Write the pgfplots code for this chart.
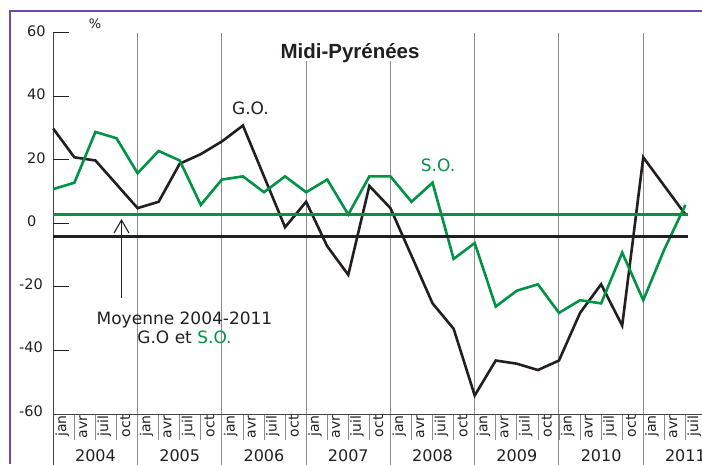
\documentclass[border=0pt]{standalone}
\usepackage{fontspec}
\setmainfont{DejaVu Sans}
\newfontfamily\titlefont{Liberation Sans}
\usepackage{pgfplots}
\pgfplotsset{compat=1.18}
\usetikzlibrary{arrows.meta}
\definecolor{sogreen}{RGB}{0,146,69}
\definecolor{goblack}{RGB}{35,31,32}
\definecolor{framepurple}{RGB}{108,72,168}
\definecolor{gridgray}{RGB}{140,140,140}

\begin{document}
\begin{tikzpicture}
\useasboundingbox (0,0) rectangle (702pt,464pt);
\clip (0,0) rectangle (702pt,464pt);
% frame
\draw[framepurple, line width=2pt] (10pt,0) -- (10pt,453pt) -- (710pt,453pt);
\begin{scope}[shift={(53.3pt,240.5pt)}, x=21.07pt, y=3.175pt]
  \foreach \i in {4,8,...,32} \draw[gridgray, line width=1pt] (\i,60) -- (\i,-77);
  \foreach \i in {1,...,31} \draw[gridgray, line width=0.8pt] (\i,-60) -- (\i,-68.3);
  \draw[goblack!85, line width=1pt] (0,-60) -- (33,-60);
  \draw[goblack!85, line width=1pt] (0,60) -- (0,-77);
  \foreach \v in {60,40,20,0,-20,-40} \draw[goblack, line width=1pt] (0,\v) -- (0.75,\v);
  \foreach \i in {0,...,31} {
     \pgfmathtruncatemacro{\m}{mod(\i,4)}
     \node[rotate=90, anchor=east, inner sep=0pt, font=\fontsize{14}{16}\selectfont, text=goblack] at (\i+0.42,-60.4) {\ifcase\m jan\or avr\or juil\or oct\fi};
  }
  \foreach \y [count=\k from 0] in {2004,...,2011}
     \node[anchor=base, inner sep=0pt, font=\fontsize{16}{18}\selectfont, text=goblack] at (4*\k+2,-75) {\y};
\end{scope}
% y tick labels
\foreach \v in {60,40,20,0}
  \node[anchor=west, inner sep=0pt, font=\fontsize{14.5}{16}\selectfont, text=goblack] at (27pt,{(242.5+3.175*\v)*1pt}) {\v};
\foreach \v in {-20,-40,-60}
  \node[anchor=east, inner sep=0pt, font=\fontsize{14.5}{16}\selectfont, text=goblack] at (43pt,{(243.5+3.175*\v)*1pt}) {\v};
\node[inner sep=0pt, font=\fontsize{13}{15}\selectfont, text=goblack] at (95pt,440pt) {\%};
% title
\fill[white] (266pt,403pt) rectangle (434pt,432pt);
\node[anchor=base, inner sep=0pt, font=\titlefont\bfseries\fontsize{20.5}{24}\selectfont, text=goblack] at (350pt,405pt) {Midi-Pyrénées};
% labels
\node[anchor=base, inner sep=0pt, font=\fontsize{17}{20}\selectfont, text=goblack] at (250.5pt,349pt) {G.O.};
\node[anchor=base, inner sep=0pt, font=\fontsize{17}{20}\selectfont, text=sogreen] at (438pt,292pt) {S.O.};
\node[anchor=base, inner sep=0pt, font=\fontsize{17}{20}\selectfont, text=goblack] at (184.5pt,139.5pt) {Moyenne 2004-2011};
\node[anchor=base, inner sep=0pt, font=\fontsize{17}{20}\selectfont, text=goblack] at (184.5pt,120pt) {G.O et \textcolor{sogreen}{S.O.}};
\draw[goblack, line width=1.1pt, -{Straight Barb[length=13pt,width=15pt]}] (121.5pt,166pt) -- (121.5pt,245pt);

\begin{axis}[at={(53.3pt,49.5pt)}, anchor=south west, scale only axis,
  width=674.24pt, height=381pt, xmin=0, xmax=32, ymin=-60, ymax=60,
  axis lines=none, clip=false]
\addplot[goblack, line width=2.6pt, mark=none] coordinates {
 (0,30) (1,21) (2,20) (3,12.5) (4,5) (5,7) (6,19) (7,22)
 (8,26) (9,31) (10,15) (11,-1) (12,7) (13,-7) (14,-16) (15,12)
 (16,5) (17,-10) (18,-25) (19,-33) (20,-54) (21,-43) (22,-44) (23,-46)
 (24,-43) (25,-28) (26,-19) (27,-32) (28,21) (29,12) (30,3)};
\addplot[sogreen, line width=2.6pt, mark=none] coordinates {
 (0,11) (1,13) (2,29) (3,27) (4,16) (5,23) (6,20) (7,6)
 (8,14) (9,15) (10,10) (11,15) (12,10) (13,14) (14,3) (15,15)
 (16,15) (17,7) (18,13) (19,-11) (20,-6) (21,-26) (22,-21) (23,-19)
 (24,-28) (25,-24) (26,-25) (27,-9) (28,-24) (29,-8) (30,6)};
\addplot[sogreen, line width=2.6pt, mark=none] coordinates {(0,3) (30.1,3)};
\addplot[goblack, line width=2.6pt, mark=none] coordinates {(0,-4) (30.1,-4)};
\end{axis}
\end{tikzpicture}
\end{document}
